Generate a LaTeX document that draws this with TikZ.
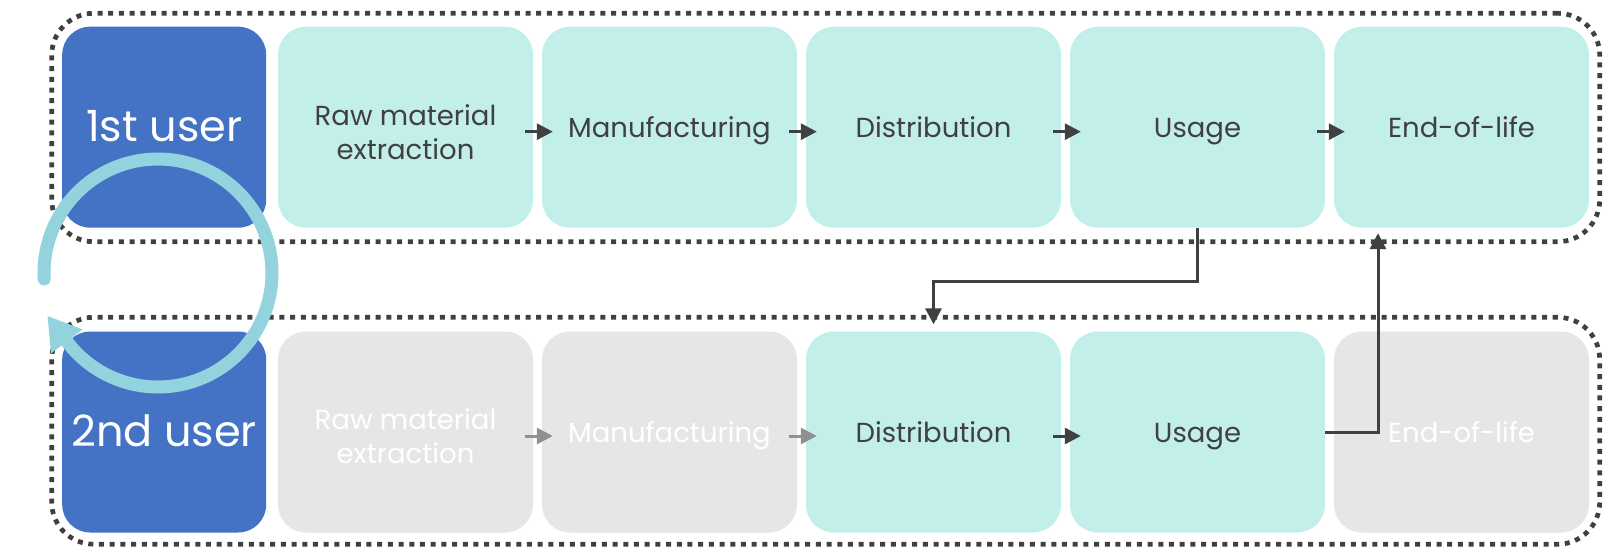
\documentclass[tikz,border=0pt]{standalone}
\usepackage{fontspec}
\setmainfont{Poppins}
\usetikzlibrary{arrows.meta}
\definecolor{txt}{HTML}{404040}
\definecolor{dk}{HTML}{404040}
\definecolor{gr}{HTML}{909090}
\definecolor{usrblue}{HTML}{4472C4}
\definecolor{cyanf}{HTML}{C2EFEA}
\definecolor{grayf}{HTML}{E6E6E6}
\definecolor{circ}{HTML}{92D3DE}
\newcommand{\onel}[1]{\raisebox{-10pt}[0pt][0pt]{#1}}
\newcommand{\twol}[2]{\raisebox{2.2pt}[0pt][0pt]{\begin{tabular}[t]{@{}c@{}}#1\\#2\end{tabular}}}
\newcommand{\usrl}[1]{\raisebox{-14.5pt}[0pt][0pt]{#1}}
\begin{document}
\begin{tikzpicture}[x=1pt,y=-1pt,
  box/.style={rounded corners=28pt, minimum width=255pt, minimum height=201pt, inner sep=0pt, text=txt, font=\fontsize{27.5}{34}\selectfont},
  usr/.style={box, fill=usrblue, minimum width=204pt, text=white, font=\fontsize{43}{50}\selectfont},
  act/.style={box, fill=cyanf},
  inact/.style={box, fill=grayf, text=white},
  dashbox/.style={draw=dk, line width=4.7pt, dash pattern=on 5pt off 5.7pt, rounded corners=42pt, inner sep=0pt},
  flow/.style={draw=dk, line width=3pt, -{Triangle[length=16pt,width=16pt]}},
  flowg/.style={flow, draw=gr}
]
\fill[white] (0,0) rectangle (1614,549);
\useasboundingbox (0,0) rectangle (1614,549);
% dashed groups
\node[dashbox, minimum width=1548pt, minimum height=228.4pt] (g1) at (825.7,127.5) {};
\node[dashbox, minimum width=1548pt, minimum height=226.9pt] (g2) at (825.7,430.75) {};
% top row
\node[usr] (b1) at (164.2,127.2) {\usrl{1st user}};
\node[act] (r1) at (405.5,127.2) {\twol{Raw material}{extraction}};
\node[act] (r2) at (669.5,127.2) {\onel{Manufacturing}};
\node[act] (r3) at (933.5,127.2) {\onel{Distribution}};
\node[act] (r4) at (1197.5,127.2) {\onel{Usage}};
\node[act] (r5) at (1461.5,127.2) {\onel{End-of-life}};
% bottom row
\node[usr] (b2) at (164.2,432) {\usrl{2nd user}};
\node[inact] (s1) at (405.5,432) {\twol{Raw material}{extraction}};
\node[inact] (s2) at (669.5,432) {\onel{Manufacturing}};
\node[act] (s3) at (933.5,432) {\onel{Distribution}};
\node[act] (s4) at (1197.5,432) {\onel{Usage}};
\node[inact] (s5) at (1461.5,432) {\onel{End-of-life}};
% flow arrows
\draw[flow] ([xshift=-8pt,yshift=-4.5pt]r1.east) -- ([xshift=11pt,yshift=-4.5pt]r2.west);
\draw[flow] ([xshift=-8pt,yshift=-4.5pt]r2.east) -- ([xshift=11pt,yshift=-4.5pt]r3.west);
\draw[flow] ([xshift=-8pt,yshift=-4.5pt]r3.east) -- ([xshift=11pt,yshift=-4.5pt]r4.west);
\draw[flow] ([xshift=-8pt,yshift=-4.5pt]r4.east) -- ([xshift=11pt,yshift=-4.5pt]r5.west);
\draw[flowg] ([xshift=-8pt,yshift=-4pt]s1.east) -- ([xshift=11pt,yshift=-4pt]s2.west);
\draw[flowg] ([xshift=-8pt,yshift=-4pt]s2.east) -- ([xshift=11pt,yshift=-4pt]s3.west);
\draw[flow] ([xshift=-8pt,yshift=-4pt]s3.east) -- ([xshift=11pt,yshift=-4pt]s4.west);
% cross connectors
\draw[flow] (r4.south) -- ++(0,54) -| ([yshift=7pt]s3.north);
\draw[flow] (s4.east) -| ([xshift=-83.5pt,yshift=-5.3pt]r5.south);
% cycle arrow
\draw[circ, line width=13pt, line cap=round] (158,273) ++(177:114) arc[start angle=177, end angle=503.1, radius=114];
\coordinate (tipA) at (47.6,316.1);
\coordinate (cA) at (82.6,329.4);
\coordinate (cB) at (51.0,353.4);
\fill[circ] (tipA) -- (cA) -- (cB) -- cycle;
\end{tikzpicture}
\end{document}
